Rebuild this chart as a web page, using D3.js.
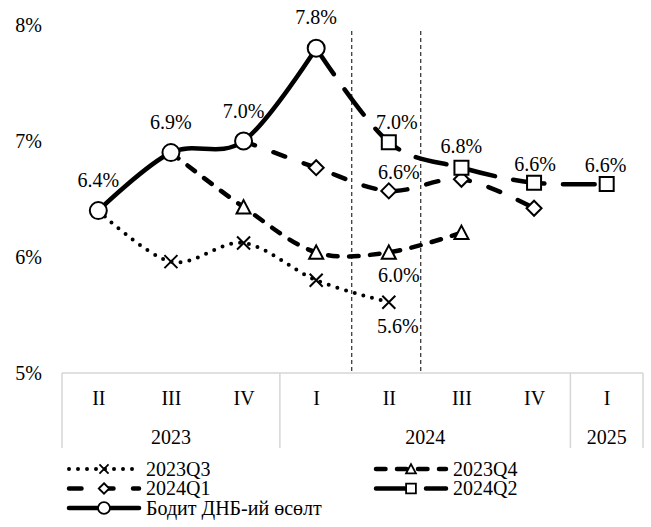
<!DOCTYPE html>
<html><head><meta charset="utf-8">
<script src="https://cdn.jsdelivr.net/npm/d3@7"></script>
<style>
body{margin:0;background:#fff}
svg text{font-family:"Liberation Serif","DejaVu Serif",serif;}
</style>
</head><body><svg id="c" width="651" height="527"></svg>
<script>
// ---- data ----
const quarters = ["II","III","IV","I","II","III","IV","I"];
const yearLabels = ["2023","2024","2025"];
const yearSpans = [3,4,1];
const yTicks = [5,6,7,8];
const actual  = [6.4, 6.9, 7.0, 7.8, null, null, null, null];
const f2023Q3 = [6.4, 5.96, 6.12, 5.80, 5.61, null, null, null];
const f2023Q4 = [null, 6.9, 6.43, 6.04, 6.04, 6.21, null, null];
const f2024Q1 = [null, null, 7.0, 6.77, 6.57, 6.67, 6.42, null];
const f2024Q2 = [null, null, null, 7.8, 6.99, 6.77, 6.64, 6.63];
const seriesNames = ["2023Q3","2023Q4","2024Q1","2024Q2","Бодит ДНБ-ий өсөлт"];
const forecastWindow = [3.49, 4.44]; // category-index units

// ---- setup ----
const FONT = "Liberation Serif, DejaVu Serif, serif";
const svg = d3.select("#c");
const x = d3.scaleLinear().domain([-0.5, 7.5]).range([62, 643]);
const y = d3.scaleLinear().domain([5, 8]).range([373, 25]);
const axisBottomY = 448;

function markerPath(type, s) {
  s = s || 1;
  const p = d3.path();
  if (type === "circle") { p.arc(0, 0, 8.5*s, 0, 2*Math.PI); }
  else if (type === "square") { const h = 7*s; p.rect(-h, -h, 2*h, 2*h); }
  else if (type === "diamond") { const h = 7.5*s; p.moveTo(0,-h); p.lineTo(h,0); p.lineTo(0,h); p.lineTo(-h,0); p.closePath(); }
  else if (type === "triangle") { const h = 7*s; p.moveTo(0,-h); p.lineTo(h, h*0.9); p.lineTo(-h, h*0.9); p.closePath(); }
  else if (type === "x") { const h = 6.5*s; p.moveTo(-h,-h); p.lineTo(h,h); p.moveTo(h,-h); p.lineTo(-h,h); }
  return p.toString();
}

const series = [
  {name: seriesNames[0], values: f2023Q3, marker: "x",        width: 4,   dash: "0 9",      cap: "round"},
  {name: seriesNames[1], values: f2023Q4, marker: "triangle", width: 4.5, dash: "9.5 11.5", cap: "round"},
  {name: seriesNames[2], values: f2024Q1, marker: "diamond",  width: 4.5, dash: "12.5 19.5",cap: "round"},
  {name: seriesNames[3], values: f2024Q2, marker: "square",   width: 4.5, dash: "31.5 18.5",cap: "round"},
  {name: seriesNames[4], values: actual,  marker: "circle",   width: 4.5, dash: null,       cap: "round"}
];

// ---- y axis labels ----
const yAxis = d3.axisLeft(y).tickValues(yTicks).tickFormat(d => d + "%").tickSize(0).tickPadding(0);
const gy = svg.append("g").attr("transform", "translate(42,0)").call(yAxis)
  .attr("font-family", FONT).attr("font-size", 20);
gy.select(".domain").remove();
gy.selectAll("text").attr("fill", "#000").attr("dy", "0.34em");

// ---- category axis (multi-level) ----
const grid = svg.append("g").attr("stroke", "#d6d6d6").attr("stroke-width", 1.5);
grid.append("line").attr("x1", x(-0.5)).attr("x2", x(7.5)).attr("y1", y(5)).attr("y2", y(5));
const bounds = [0, ...Array.from(d3.cumsum(yearSpans))];
bounds.forEach(b => {
  grid.append("line").attr("x1", x(b-0.5)).attr("x2", x(b-0.5)).attr("y1", y(5)).attr("y2", axisBottomY);
});
const xAxis = d3.axisBottom(x).tickValues(d3.range(quarters.length)).tickFormat(i => quarters[i]).tickSize(0).tickPadding(0);
const gx = svg.append("g").attr("transform", "translate(0,398)").call(xAxis)
  .attr("font-family", FONT).attr("font-size", 20);
gx.select(".domain").remove();
gx.selectAll("text").attr("fill", "#000").attr("y", 0).attr("dy", "0.34em");
yearLabels.forEach((lab, k) => {
  const mid = (bounds[k] + bounds[k+1] - 1) / 2;
  svg.append("text").attr("x", x(mid)).attr("y", 437).attr("dy", "0.34em")
    .attr("text-anchor", "middle").attr("font-family", FONT).attr("font-size", 20).text(lab);
});

// ---- forecast window dashed lines ----
forecastWindow.forEach(v => {
  svg.append("line").attr("x1", x(v)).attr("x2", x(v)).attr("y1", 31).attr("y2", y(5))
    .attr("stroke", "#000").attr("stroke-width", 1).attr("stroke-dasharray", "4 3");
});

// ---- lines ----
const line = d3.line().defined(d => d.v != null).x(d => x(d.i)).y(d => y(d.v))
  .curve(d3.curveCardinal.tension(0));
series.forEach(s => {
  const pts = s.values.map((v, i) => ({i, v}));
  svg.append("path").datum(pts).attr("d", line).attr("fill", "none")
    .attr("stroke", "#000").attr("stroke-width", s.width)
    .attr("stroke-linecap", s.cap).attr("stroke-linejoin", "round")
    .attr("stroke-dasharray", s.dash);
});
series.forEach(s => {
  const first = s.values.findIndex(v => v != null);
  s.values.forEach((v, i) => {
    if (v == null) return;
    if (s.marker !== "circle" && i === first) return;
    svg.append("path").attr("transform", `translate(${x(i)},${y(v)})`)
      .attr("d", markerPath(s.marker))
      .attr("fill", s.marker === "x" ? "none" : "#fff")
      .attr("stroke", "#000").attr("stroke-width", 2);
  });
});

// ---- data labels ----
const labelSpec = [
  {s: 4, i: 0, dx: 0, dy: -30}, {s: 4, i: 1, dx: 0, dy: -30},
  {s: 4, i: 2, dx: 0, dy: -30}, {s: 4, i: 3, dx: 0, dy: -31},
  {s: 3, i: 4, dx: 8, dy: -20}, {s: 3, i: 5, dx: 0, dy: -21},
  {s: 3, i: 6, dx: 1, dy: -19}, {s: 3, i: 7, dx: -1, dy: -19},
  {s: 2, i: 4, dx: 10, dy: -19},
  {s: 1, i: 4, dx: 10, dy: 23},
  {s: 0, i: 4, dx: 9, dy: 24}
];
labelSpec.forEach(l => {
  const v = series[l.s].values[l.i];
  svg.append("text").attr("x", x(l.i) + l.dx).attr("y", y(v) + l.dy).attr("dy", "0.34em")
    .attr("text-anchor", "middle").attr("font-family", FONT).attr("font-size", 20).attr("fill", "#000")
    .text(v.toFixed(1) + "%");
});

// ---- legend ----
series.forEach((s, k) => {
  const col = k % 2, row = Math.floor(k / 2);
  const x0 = col === 0 ? 69 : 376, ly = 469 + row * 19.5;
  const g = svg.append("g");
  g.append("line").attr("x1", x0).attr("x2", x0 + 70).attr("y1", ly).attr("y2", ly)
    .attr("stroke", "#000").attr("stroke-width", s.width)
    .attr("stroke-linecap", s.cap).attr("stroke-dasharray", s.dash);
  g.append("path").attr("transform", `translate(${x0 + 35},${ly})`)
    .attr("d", markerPath(s.marker, 0.7))
    .attr("fill", s.marker === "x" ? "none" : "#fff")
    .attr("stroke", "#000").attr("stroke-width", 1.8);
  g.append("text").attr("x", x0 + 77).attr("y", ly).attr("dy", "0.34em")
    .attr("font-family", FONT).attr("font-size", 20).attr("fill", "#000").text(s.name);
});
</script>
</body></html>
